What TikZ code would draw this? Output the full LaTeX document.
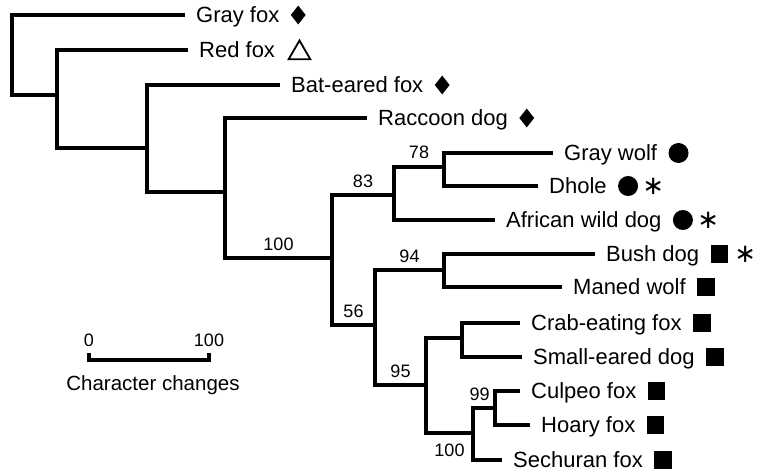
\documentclass[tikz,border=0pt]{standalone}
\usepackage{fontspec}
\setmainfont{Liberation Sans}
\newfontfamily\symfont{DejaVu Sans}
\usetikzlibrary{positioning,shapes.geometric}

\begin{document}
\begin{tikzpicture}[
  x=1pt, y=-1pt,
  branch/.style={line width=4pt},
  scalebar/.style={line width=3.3pt},
  taxon/.style={anchor=west, inner xsep=11pt, inner ysep=0pt, text height=15.7pt,
    text depth=0pt, font=\fontsize{22}{24}\selectfont},
  boot/.style={font=\fontsize{18}{20}\selectfont, inner sep=0pt, text height=12.9pt,
    text depth=0pt},
  scaletext/.style={font=\fontsize{20.5}{22}\selectfont, inner sep=0pt,
    text height=14.7pt, text depth=0pt},
  dmd/.style={diamond, fill, inner sep=0pt, minimum width=15pt, minimum height=19pt},
  dot/.style={circle, fill, inner sep=0pt, minimum size=20pt},
  sq/.style={rectangle, fill, inner sep=0pt, minimum size=17.5pt},
  tri/.style={regular polygon, regular polygon sides=3, draw, line width=1.8pt,
    inner sep=0pt, minimum size=25pt, xshift=5pt, yshift=-3pt},
  ast/.style={inner sep=0pt, font=\symfont\fontsize{26}{26}\selectfont}
]
  \useasboundingbox (0,0) rectangle (757,473);

  % --- Taxa ---
  \node[taxon] (gray) at (185,15) {Gray fox};
  \node[taxon] (red) at (188,50) {Red fox};
  \node[taxon] (bat) at (280,85) {Bat-eared fox};
  \node[taxon] (raccoon) at (367,118) {Raccoon dog};
  \node[taxon] (wolf) at (553,153) {Gray wolf};
  \node[taxon] (dhole) at (538,186) {Dhole};
  \node[taxon] (african) at (495,220) {African wild dog};
  \node[taxon] (bush) at (595,254) {Bush dog};
  \node[taxon] (maned) at (562,287) {Maned wolf};
  \node[taxon] (crab) at (520,323) {Crab-eating fox};
  \node[taxon] (small) at (522,357) {Small-eared dog};
  \node[taxon] (culpeo) at (520,391) {Culpeo fox};
  \node[taxon] (hoary) at (530,425) {Hoary fox};
  \node[taxon] (sechuran) at (502,460) {Sechuran fox};

  % --- Symbols ---
  \node[dmd, right=0pt of gray] (gray s) {};
  \node[tri, right=0pt of red] (red s) {};
  \node[dmd, right=0pt of bat] (bat s) {};
  \node[dmd, right=0pt of raccoon] (raccoon s) {};
  \node[dot, right=0pt of wolf] (wolf s) {};
  \node[dot, right=0pt of dhole] (dhole s) {};
  \node[ast, right=4pt of dhole s] (dhole a) {∗};
  \node[dot, right=0pt of african] (african s) {};
  \node[ast, right=4pt of african s] (african a) {∗};
  \node[sq, right=0pt of bush] (bush s) {};
  \node[ast, right=6pt of bush s] (bush a) {∗};
  \node[sq, right=0pt of maned] (maned s) {};
  \node[sq, right=0pt of crab] (crab s) {};
  \node[sq, right=0pt of small] (small s) {};
  \node[sq, right=0pt of culpeo] (culpeo s) {};
  \node[sq, right=0pt of hoary] (hoary s) {};
  \node[sq, right=0pt of sechuran] (sechuran s) {};

  % --- Internal nodes ---
  \coordinate (root) at (12,55);
  \coordinate (n1) at (57,95);
  \coordinate (n2) at (147,148);
  \coordinate (n3) at (225,192);
  \coordinate (n4) at (332,258);
  \coordinate (n5) at (394,195);
  \coordinate (n6) at (375,325);
  \coordinate (n7) at (444,167);
  \coordinate (n8) at (444,270);
  \coordinate (n9) at (426,385);
  \coordinate (n10) at (462,338);
  \coordinate (n11) at (473,433);
  \coordinate (n12) at (495,408);

  % --- Branches ---
  \draw[branch] (root) |- (gray.west);
  \draw[branch] (root) |- (n1);
  \draw[branch] (n1) |- (red.west);
  \draw[branch] (n1) |- (n2);
  \draw[branch] (n2) |- (bat.west);
  \draw[branch] (n2) |- (n3);
  \draw[branch] (n3) |- (raccoon.west);
  \draw[branch] (n3) |- node[boot, pos=0.75, above=6pt] (bs4) {100} (n4);
  \draw[branch] (n4) |- node[boot, pos=0.75, above=6pt] (bs5) {83} (n5);
  \draw[branch] (n4) |- node[boot, pos=0.75, above=6pt] (bs6) {56} (n6);
  \draw[branch] (n5) |- node[boot, pos=0.75, above=6pt] (bs7) {78} (n7);
  \draw[branch] (n5) |- (african.west);
  \draw[branch] (n7) |- (wolf.west);
  \draw[branch] (n7) |- (dhole.west);
  \draw[branch] (n6) |- node[boot, pos=0.75, above=6pt] (bs8) {94} (n8);
  \draw[branch] (n6) |- node[boot, pos=0.75, above=6pt] (bs9) {95} (n9);
  \draw[branch] (n8) |- (bush.west);
  \draw[branch] (n8) |- (maned.west);
  \draw[branch] (n9) |- (n10);
  \draw[branch] (n9) |- node[boot, pos=0.75, below=9pt] (bs11) {100} (n11);
  \draw[branch] (n10) |- (crab.west);
  \draw[branch] (n10) |- (small.west);
  \draw[branch] (n11) |- node[boot, pos=0.65, above=6pt] (bs12) {99} (n12);
  \draw[branch] (n11) |- (sechuran.west);
  \draw[branch] (n12) |- (culpeo.west);
  \draw[branch] (n12) |- (hoary.west);

  % --- Scale bar ---
  \coordinate (sb0) at (89,360);
  \coordinate (sb1) at (209,360);
  \draw[scalebar] ([yshift=7pt]sb0) -- (sb0) -- (sb1) -- ([yshift=7pt]sb1);
  \node[boot, above=13pt of sb0] (sc0) {0};
  \node[boot, above=13pt of sb1] (sc1) {100};
  \node[scaletext] (sclabel) at (153,383) {Character changes};
\end{tikzpicture}
\end{document}
